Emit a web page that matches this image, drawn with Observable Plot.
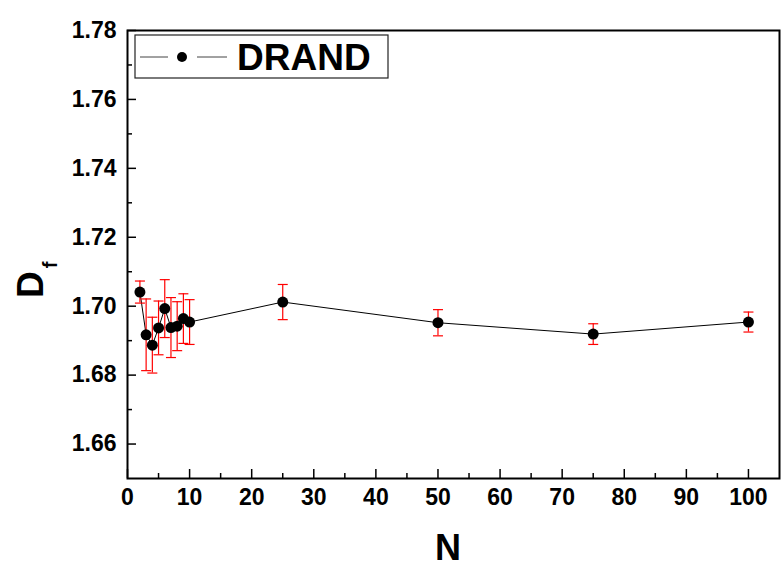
<!DOCTYPE html>
<html><head><meta charset="utf-8">
<script src="https://cdn.jsdelivr.net/npm/d3@7"></script>
<script src="https://cdn.jsdelivr.net/npm/@observablehq/plot@0.6"></script>
<style>body{margin:0;background:#fff} svg{display:block}</style>
</head><body><div id="chart"></div>
<script>
const N   = [2, 3, 4, 5, 6, 7, 8, 9, 10, 25, 50, 75, 100];
const Df  = [1.7041, 1.6917, 1.6887, 1.6937, 1.6993, 1.6938, 1.6942, 1.6964, 1.6954, 1.7012, 1.6952, 1.6919, 1.6954];
const err = [0.0032, 0.0104, 0.0081, 0.0078, 0.0084, 0.0087, 0.0071, 0.0072, 0.0065, 0.0051, 0.0038, 0.0030, 0.0029];
const xTicks = [0, 10, 20, 30, 40, 50, 60, 70, 80, 90, 100];
const xMinor = [5, 15, 25, 35, 45, 55, 65, 75, 85, 95];
const yTicks = [1.66, 1.68, 1.70, 1.72, 1.74, 1.76, 1.78];
const yMinor = [1.67, 1.69, 1.71, 1.73, 1.75, 1.77];
const seriesName = "DRAND";

const data = N.map((n, i) => ({N: n, Df: Df[i], lo: Df[i] - err[i], hi: Df[i] + err[i]}));
const cap = {draw(ctx) { ctx.moveTo(-5, 0); ctx.lineTo(5, 0); }};
const font = "'Liberation Sans', Arial, sans-serif";

const plot = Plot.plot({
  width: 781, height: 574,
  marginLeft: 127, marginRight: 2, marginTop: 30, marginBottom: 96,
  style: {fontFamily: font, fontWeight: "bold", color: "black", background: "white"},
  x: {domain: [0, 105]},
  y: {domain: [1.65, 1.78]},
  marks: [
    Plot.axisX(xTicks, {tickSize: -9, tickPadding: 19, fontSize: 23, fontWeight: "bold", strokeWidth: 1.5, tickFormat: d => String(d), label: null}),
    Plot.axisX(xMinor, {tickSize: -5, strokeWidth: 1.5, tickFormat: () => "", label: null}),
    Plot.axisY(yTicks, {tickSize: -9, tickPadding: 20, fontSize: 23, fontWeight: "bold", strokeWidth: 1.5, tickFormat: d => d.toFixed(2), label: null}),
    Plot.axisY(yMinor, {tickSize: -5, strokeWidth: 1.5, tickFormat: () => "", label: null}),
    Plot.line(data, {x: "N", y: "Df", stroke: "black", strokeWidth: 1}),
    Plot.ruleX(data, {x: "N", y1: "lo", y2: "hi", stroke: "red", strokeWidth: 1.2}),
    Plot.dot(data, {x: "N", y: "lo", symbol: cap, stroke: "red", fill: "none", strokeWidth: 1.2}),
    Plot.dot(data, {x: "N", y: "hi", symbol: cap, stroke: "red", fill: "none", strokeWidth: 1.2}),
    Plot.dot(data, {x: "N", y: "Df", r: 5.5, fill: "black", stroke: "none"}),
    Plot.frame({stroke: "black", strokeWidth: 2})
  ]
});
document.getElementById("chart").appendChild(plot);

const svg = d3.select(plot);
// axis titles
svg.append("text").attr("x", 448).attr("y", 560).attr("text-anchor", "middle")
  .attr("font-family", font).attr("font-weight", "bold").attr("font-size", 36).attr("fill", "black").text("N");
const yt = svg.append("text").attr("transform", "translate(43,298) rotate(-90)").attr("text-anchor", "start")
  .attr("font-family", font).attr("font-weight", "bold").attr("font-size", 37).attr("fill", "black");
yt.append("tspan").text("D");
yt.append("tspan").attr("font-size", 20).attr("dx", 3).attr("dy", 14).text("f");

// legend
const lg = svg.append("g");
lg.append("rect").attr("x", 135).attr("y", 35).attr("width", 253).attr("height", 43)
  .attr("fill", "white").attr("stroke", "#222").attr("stroke-width", 1.2);
lg.append("line").attr("x1", 140).attr("x2", 168).attr("y1", 57).attr("y2", 57).attr("stroke", "#444").attr("stroke-width", 1);
lg.append("line").attr("x1", 197).attr("x2", 227).attr("y1", 57).attr("y2", 57).attr("stroke", "#444").attr("stroke-width", 1);
lg.append("circle").attr("cx", 182).attr("cy", 57).attr("r", 5).attr("fill", "black");
lg.append("text").attr("x", 237).attr("y", 70).attr("text-anchor", "start").attr("font-family", font).attr("font-weight", "bold")
  .attr("font-size", 37).attr("fill", "black").text(seriesName);
</script></body></html>
